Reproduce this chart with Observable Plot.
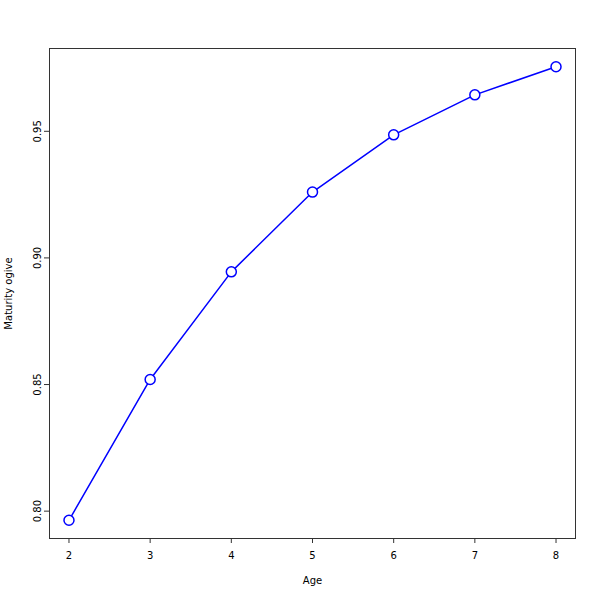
<!DOCTYPE html>
<html>
<head>
<meta charset="utf-8">
<script src="https://cdn.jsdelivr.net/npm/d3@7"></script>
<script src="https://cdn.jsdelivr.net/npm/@observablehq/plot@0.6"></script>
<style>
html,body{margin:0;padding:0;background:#fff;}
#chart svg{display:block;}
</style>
</head>
<body>
<div id="chart"></div>
<script>
const ages = [2, 3, 4, 5, 6, 7, 8];
const maturity = [0.7964, 0.8520, 0.8945, 0.9260, 0.9486, 0.9644, 0.9755];
const xTicks = [2, 3, 4, 5, 6, 7, 8];
const yTicks = [0.80, 0.85, 0.90, 0.95];

const data = ages.map((a, i) => ({age: a, m: maturity[i]}));

const plot = Plot.plot({
  width: 600,
  height: 600,
  marginLeft: 49,
  marginRight: 25,
  marginTop: 48,
  marginBottom: 62,
  style: {fontFamily: "DejaVu Sans, sans-serif", fontSize: "10px", background: "#fff", color: "#000"},
  x: {domain: [1.76, 8.24]},
  y: {domain: [0.7892, 0.9827]},
  marks: [
    Plot.frame({stroke: "#333"}),
    Plot.axisX({ticks: xTicks, tickSize: 5, tickPadding: 8, tickFormat: d => String(d), label: null, stroke: "#333", fontSize: 10}),
    Plot.axisY({ticks: yTicks, tickSize: 5, tickPadding: 4, tickFormat: d3.format(".2f"), tickRotate: -90, label: null, stroke: "#333", fontSize: 10}),
    Plot.text(["Age"], {frameAnchor: "bottom", dy: 45, fontSize: 10}),
    Plot.text(["Maturity ogive"], {frameAnchor: "left", dx: -41, rotate: -90, textAnchor: "middle", fontSize: 10}),
    Plot.line(data, {x: "age", y: "m", stroke: "blue", strokeWidth: 1.5}),
    Plot.dot(data, {x: "age", y: "m", r: 5, stroke: "blue", strokeWidth: 1.5, fill: "white"})
  ]
});
document.getElementById("chart").appendChild(plot);
</script>
</body>
</html>
